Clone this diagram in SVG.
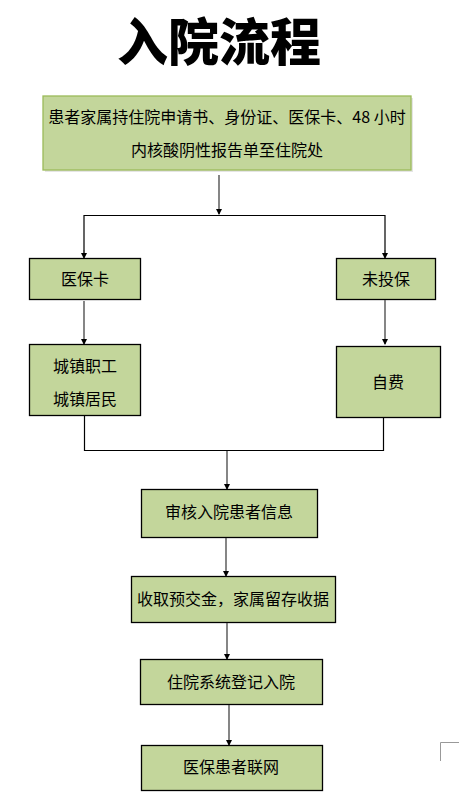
<svg xmlns="http://www.w3.org/2000/svg" width="472" height="804" viewBox="0 0 472 804">
<defs>
<marker id="ah" markerWidth="6" markerHeight="6" refX="5" refY="3" orient="auto" markerUnits="userSpaceOnUse">
<path d="M0,0 L6,3 L0,6 Z" fill="#000"/>
</marker>
</defs>
<style>
.box{fill:#c3d69b;stroke:#000;stroke-width:1.3}
.top{fill:#c3d69b;stroke:#9bbb59;stroke-width:1.3}
.t{font-family:"Noto Sans CJK SC","Liberation Sans",sans-serif;font-size:16px;fill:#000;text-anchor:middle}
.ln{stroke:#000;stroke-width:1.2;fill:none}
.ar{stroke:#444;stroke-width:1.3;fill:none;marker-end:url(#ah)}
</style>
<rect width="472" height="804" fill="#fff"/>
<text x="219" y="61" font-family="Noto Sans CJK SC,sans-serif" font-size="51" font-weight="900" text-anchor="middle" fill="#000">入院流程</text>
<g id="n-start">
<rect x="45" y="98" width="368" height="74" fill="#ccc" opacity="0.5"/>
<rect class="top" x="43" y="96" width="368" height="74"/>
<text class="t" x="227" y="123">患者家属持住院申请书、身份证、医保卡、48 小时</text>
<text class="t" x="227" y="156">内核酸阴性报告单至住院处</text>
</g>
<g id="n-yibaoka">
<rect class="box" x="29.5" y="258.5" width="111" height="41"/>
<text class="t" x="85" y="285">医保卡</text>
</g>
<g id="n-weitoubao">
<rect class="box" x="336.5" y="258.5" width="99" height="41"/>
<text class="t" x="386" y="285">未投保</text>
</g>
<g id="n-chengzhen">
<rect class="box" x="29.5" y="344.5" width="111" height="71"/>
<text class="t" x="85" y="372">城镇职工</text>
<text class="t" x="85" y="405">城镇居民</text>
</g>
<g id="n-zifei">
<rect class="box" x="336.5" y="346.5" width="104" height="71"/>
<text class="t" x="388" y="388">自费</text>
</g>
<g id="n-shenhe">
<rect class="box" x="141.5" y="489.5" width="176" height="48"/>
<text class="t" x="229" y="518">审核入院患者信息</text>
</g>
<g id="n-shouqu">
<rect class="box" x="131.5" y="576.5" width="204" height="46"/>
<text class="t" x="233" y="605">收取预交金，家属留存收据</text>
</g>
<g id="n-zhuyuan">
<rect class="box" x="140.5" y="659.5" width="182" height="45"/>
<text class="t" x="231" y="688">住院系统登记入院</text>
</g>
<g id="n-lianwang">
<rect class="box" x="141.5" y="745.5" width="181" height="45"/>
<text class="t" x="231" y="773">医保患者联网</text>
</g>
<g id="connectors">
<line class="ar" x1="219" y1="175" x2="219" y2="214"/>
<polyline class="ln" points="84,257 84,215.5 385,215.5 385,257"/>
<line class="ar" x1="84" y1="250" x2="84" y2="258"/>
<line class="ar" x1="385" y1="250" x2="385" y2="258"/>
<line class="ar" x1="84" y1="301" x2="84" y2="344"/>
<line class="ar" x1="385" y1="300" x2="385" y2="344"/>
<polyline class="ln" points="84.5,416 84.5,450.5 383.5,450.5 383.5,418"/>
<line class="ar" x1="227" y1="451" x2="227" y2="489"/>
<line class="ar" x1="226" y1="538" x2="226" y2="576"/>
<line class="ar" x1="227" y1="623" x2="227" y2="659"/>
<line class="ar" x1="229" y1="705" x2="229" y2="745"/>
</g>
<polyline points="440.5,761 440.5,742.5 459,742.5" fill="none" stroke="#999" stroke-width="1"/>
</svg>
